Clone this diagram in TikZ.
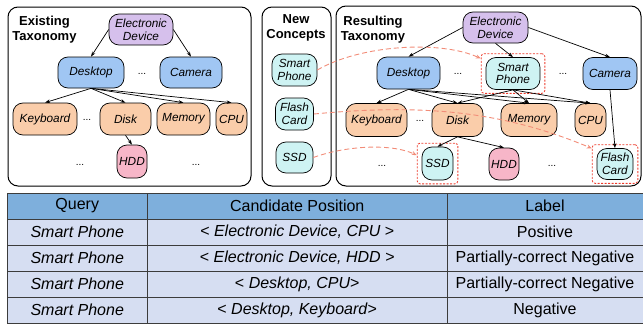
\documentclass[tikz,border=0pt]{standalone}
\usepackage{fontspec}
\setmainfont{Liberation Sans}
\usetikzlibrary{arrows.meta,fit}
\definecolor{cPurple}{RGB}{214,192,236}
\definecolor{cBlue}{RGB}{160,198,243}
\definecolor{cOrange}{RGB}{250,205,170}
\definecolor{cPink}{RGB}{247,182,200}
\definecolor{cCyan}{RGB}{206,243,243}
\definecolor{cRed}{RGB}{236,60,45}
\definecolor{cSalmon}{RGB}{242,140,120}
\definecolor{cHead}{RGB}{126,175,220}
\definecolor{cRow}{RGB}{214,222,242}
\definecolor{cGrid}{RGB}{60,60,60}
\begin{document}
\begin{tikzpicture}[x=1pt,y=-1pt,
  concept/.style={draw=black, line width=0.7pt, rounded corners=10pt, inner sep=1pt, align=center,
                  font=\itshape\fontsize{11.8}{12.8}\selectfont},
  sz/.style 2 args={minimum width=#1pt, minimum height=#2pt},
  panel/.style={draw=black, line width=1pt, rounded corners=10pt},
  ttl/.style={align=center, font=\bfseries\fontsize{13}{15}\selectfont},
  dots/.style={anchor=base, inner sep=0pt, font=\fontsize{10}{12}\selectfont},
  edge/.style={-{Stealth[length=5pt,width=3.5pt]}, line width=0.7pt},
  pick/.style={draw=cRed, line width=0.8pt, dash pattern=on 2pt off 1.5pt, rounded corners=3pt,
               inner xsep=4.5pt, inner ysep=3.5pt},
  newarr/.style={cSalmon, line width=0.9pt, dash pattern=on 5pt off 3pt, -{Stealth[length=5pt,width=4pt]}},
  cell/.style={draw=cGrid, line width=0.6pt, minimum height=26pt, inner sep=0pt,
               font=\fontsize{16}{18}\selectfont},
]
\useasboundingbox (0,0) rectangle (643,324);

% panels
\draw[panel] (8,7) rectangle (251,186);
\draw[panel] (262,7) rectangle (331,186);
\draw[panel] (336,6) rectangle (641,186);

\node[ttl] (t1) at (44.5,29.5) {Existing\\Taxonomy};
\node[ttl] (t2) at (296,28) {New\\Concepts};
\node[ttl] (t3) at (373,29.5) {Resulting\\Taxonomy};

% existing taxonomy
\node[concept, fill=cPurple, sz={64}{31}] (eED) at (141,29.5) {Electronic\\Device};
\node[concept, fill=cBlue, sz={66}{31}] (eDesk) at (91,72.5) {Desktop};
\node[concept, fill=cBlue, sz={62}{31}] (eCam) at (191,72.5) {Camera};
\node[concept, fill=cOrange, sz={64}{32}] (eKey) at (45,119) {Keyboard};
\node[concept, fill=cOrange, sz={51}{32}] (eDisk) at (125.5,119) {Disk};
\node[concept, fill=cOrange, sz={53}{32}] (eMem) at (183.5,119) {Memory};
\node[concept, fill=cOrange, sz={31}{32}] (eCPU) at (231.5,119) {CPU};
\node[concept, fill=cPink, sz={30}{33}] (eHDD) at (132,161.5) {HDD};
\node[dots] (ed1) at (142,74) {...};
\node[dots] (ed2) at (87,120) {...};
\node[dots] (ed3) at (80,165) {...};
\node[dots] (ed4) at (196,165) {...};

\draw[edge] (eED.west) -- (eDesk.north);
\draw[edge] (eED.east) -- (eCam.north);
\draw[edge] (eDesk.south) -- (eKey.north);
\draw[edge] (eDesk.south) -- (eDisk.north);
\draw[edge] (eDesk.south) -- (eMem.north);
\draw[edge] (eDesk.south) -- (eCPU.north);
\draw[edge] (eDisk.south) -- (eHDD.north);

% new concepts
\node[concept, fill=cCyan, sz={45}{32}] (nSP) at (294.5,70) {Smart\\Phone};
\node[concept, fill=cCyan, sz={38}{32}] (nFC) at (294.5,114) {Flash\\Card};
\node[concept, fill=cCyan, sz={37}{31}] (nSSD) at (294.5,157.5) {SSD};

% resulting taxonomy
\node[concept, fill=cPurple, sz={65}{31}] (rED) at (495.5,27.5) {Electronic\\Device};
\node[concept, fill=cBlue, sz={63}{32}] (rDesk) at (408.5,73) {Desktop};
\node[concept, fill=cCyan, sz={54}{32}] (rSP) at (513,73.5) {Smart\\Phone};
\node[concept, fill=cBlue, sz={54}{32}] (rCam) at (610,73.5) {Camera};
\node[concept, fill=cOrange, sz={61}{33}] (rKey) at (376.5,120) {Keyboard};
\node[concept, fill=cOrange, sz={51}{33}] (rDisk) at (457.5,120) {Disk};
\node[concept, fill=cOrange, sz={56}{33}] (rMem) at (529,120) {Memory};
\node[concept, fill=cOrange, sz={31}{33}] (rCPU) at (590.5,120) {CPU};
\node[concept, fill=cCyan, sz={31}{33}] (rSSD) at (437.5,163.5) {SSD};
\node[concept, fill=cPink, sz={30}{32}] (rHDD) at (504,164) {HDD};
\node[concept, fill=cCyan, sz={36}{31}] (rFC) at (615,164) {Flash\\Card};
\node[dots] (rd1) at (458,74.5) {...};
\node[dots] (rd2) at (563,74.5) {...};
\node[dots] (rd3) at (420,121) {...};
\node[dots] (rd4) at (382,166) {...};
\node[dots] (rd5) at (552,166) {...};

\node[pick, fit=(rSP)] (pSP) {};
\node[pick, fit=(rSSD)] (pSSD) {};
\node[pick, fit=(rFC)] (pFC) {};

\draw[edge] (rED.west) -- (rDesk.north);
\draw[edge] (rED.south) -- (rSP.north);
\draw[edge] (rED.east) -- (rCam.north);
\draw[edge] (rDesk.south) -- (rKey.north);
\draw[edge] (rDesk.south) -- (rDisk.north);
\draw[edge] (rDesk.south) -- (rMem.north);
\draw[edge] (rDesk.south) -- (rCPU.north);
\draw[edge] (rSP.south) -- (rDisk.north);
\draw[edge] (rSP.south) -- (rMem.north);
\draw[edge] (rSP.south) -- (rCPU.north);
\draw[edge] (rCam.south) -- (rFC.north);
\draw[edge] (rDisk.south) -- (rSSD.north);
\draw[edge] (rDisk.south) -- (rHDD.north);

% insertion arrows
\draw[newarr] (nSP.east) .. controls (360,45) and (440,40) .. (pSP.155);
\draw[newarr] (nFC.east) .. controls (420,104) and (500,110) .. (pFC.146);
\draw[newarr] (nSSD.east) .. controls (345,146) and (390,143) .. (pSSD.158);

% table
\node[cell, fill=cHead, minimum width=140.5pt] (h1) at (77.25,206) {Query};
\node[cell, fill=cHead, minimum width=299.5pt] (h2) at (297.25,206) {Candidate Position};
\node[cell, fill=cHead, minimum width=196pt] (h3) at (545,206) {Label};

\node[cell, fill=cRow, minimum width=140.5pt] (a1) at (77.25,232) {\itshape Smart Phone};
\node[cell, fill=cRow, minimum width=299.5pt] (a2) at (297.25,232) {< \textit{Electronic Device, CPU} >};
\node[cell, fill=cRow, minimum width=196pt] (a3) at (545,232) {Positive};

\node[cell, fill=cRow, minimum width=140.5pt] (b1) at (77.25,258) {\itshape Smart Phone};
\node[cell, fill=cRow, minimum width=299.5pt] (b2) at (297.25,258) {< \textit{Electronic Device, HDD} >};
\node[cell, fill=cRow, minimum width=196pt] (b3) at (545,258) {Partially-correct Negative};

\node[cell, fill=cRow, minimum width=140.5pt] (c1) at (77.25,284) {\itshape Smart Phone};
\node[cell, fill=cRow, minimum width=299.5pt] (c2) at (297.25,284) {< \textit{Desktop, CPU}>};
\node[cell, fill=cRow, minimum width=196pt] (c3) at (545,284) {Partially-correct Negative};

\node[cell, fill=cRow, minimum width=140.5pt] (d1) at (77.25,310) {\itshape Smart Phone};
\node[cell, fill=cRow, minimum width=299.5pt] (d2) at (297.25,310) {< \textit{Desktop, Keyboard}>};
\node[cell, fill=cRow, minimum width=196pt] (d3) at (545,310) {Negative};
\end{tikzpicture}
\end{document}
